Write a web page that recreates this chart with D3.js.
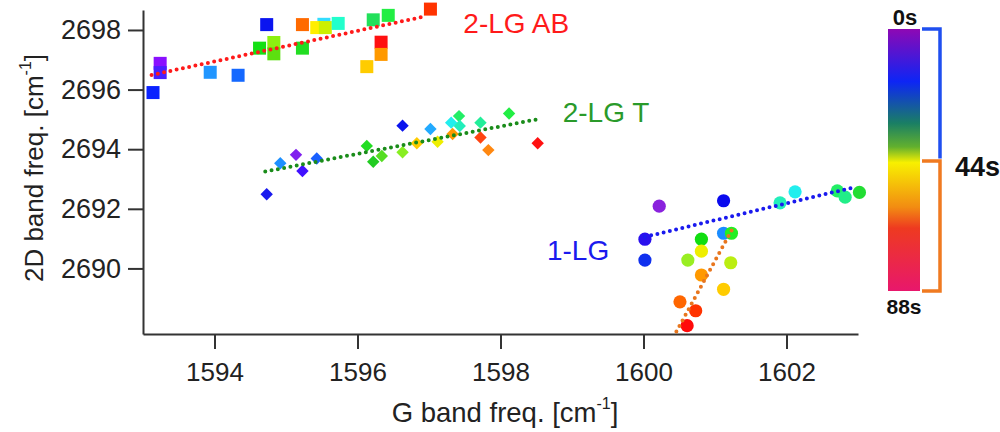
<!DOCTYPE html>
<html>
<head>
<meta charset="utf-8">
<script src="https://cdn.jsdelivr.net/npm/d3@7/dist/d3.min.js"></script>
<style>
  html, body { margin: 0; padding: 0; background: #fff; }
  svg { display: block; font-family: "Liberation Sans", Arial, sans-serif; }
</style>
</head>
<body>
<svg id="chart" width="1000" height="432"></svg>
<script>
// ---- data -----------------------------------------------------------
// Axis ticks
const xTicks = [1594, 1596, 1598, 1600, 1602];
const yTicks = [2690, 2692, 2694, 2696, 2698];

// Bilayer graphene, AB stacking (squares)
const abG   = [1593.14, 1593.24, 1593.24, 1593.94, 1594.33, 1594.73, 1594.63, 1594.83, 1594.83, 1595.23, 1595.23, 1595.53, 1595.43, 1595.55, 1595.73, 1596.22, 1596.43, 1596.33, 1596.33, 1596.13, 1597.02];
const ab2D  = [2695.90, 2696.88, 2696.57, 2696.58, 2696.48, 2698.18, 2697.39, 2697.58, 2697.20, 2697.39, 2698.18, 2698.19, 2698.08, 2698.08, 2698.22, 2698.34, 2698.49, 2697.59, 2697.18, 2696.77, 2698.70];
const abCol = ["#0a22ff", "#8a10ff", "#4a20ff", "#2196ff", "#1468ff", "#0a14f0", "#14e014", "#8cf010", "#5ce010", "#22dd22", "#ff6a00", "#33ddff", "#ffee00", "#ccf000", "#22ffcc", "#22e05a", "#22ee44", "#ff1010", "#ff9900", "#ffcc00", "#ff3300"];

// Bilayer graphene, twisted (diamonds)
const tG   = [1594.73, 1594.92, 1595.14, 1595.23, 1595.43, 1596.13, 1596.22, 1596.34, 1596.63, 1596.63, 1596.83, 1597.02, 1597.12, 1597.31, 1597.42, 1597.43, 1597.33, 1597.72, 1597.72, 1597.83, 1598.12, 1598.52];
const t2D  = [2692.49, 2693.53, 2693.81, 2693.27, 2693.69, 2694.11, 2693.58, 2693.77, 2694.79, 2693.90, 2694.20, 2694.68, 2694.25, 2694.89, 2695.11, 2694.78, 2694.51, 2694.89, 2694.39, 2693.97, 2695.20, 2694.20];
const tCol = ["#1a1aee", "#1e90ff", "#8020ee", "#4010ff", "#1a60ff", "#22dd22", "#22cc22", "#55dd22", "#0a14ee", "#88ee22", "#ffcc00", "#22aaff", "#eeee00", "#22eeee", "#22ee66", "#22eebb", "#ff9900", "#22ee99", "#ff4411", "#ff8811", "#22ee44", "#ff1111"];

// Monolayer graphene (circles)
const mG   = [1600.22, 1600.02, 1600.02, 1601.12, 1601.12, 1601.23, 1600.81, 1600.81, 1600.62, 1601.22, 1600.81, 1601.12, 1600.51, 1600.73, 1600.61, 1602.12, 1601.91, 1602.71, 1602.82, 1603.02];
const m2D  = [2692.09, 2690.98, 2690.28, 2692.27, 2691.18, 2691.18, 2690.98, 2690.58, 2690.28, 2690.19, 2689.78, 2689.30, 2688.88, 2688.58, 2688.08, 2692.57, 2692.20, 2692.60, 2692.39, 2692.55];
const mCol = ["#8a22dd", "#2a10ee", "#1030ee", "#0a0aee", "#1a8cff", "#22ee22", "#11dd11", "#eeee00", "#99ee22", "#bbee11", "#ff9900", "#ffcc00", "#ff6600", "#ff3300", "#ff0a0a", "#22eeee", "#22eebb", "#22ee66", "#22ee88", "#22dd33"];

// Linear trends: [G start, G end], [2D start, 2D end]
const fitAB_G = [1593.12, 1596.97], fitAB_2D = [2696.49, 2698.47];
const fitT_G  = [1594.71, 1598.51], fitT_2D  = [2693.25, 2695.00];
const fitM_G  = [1600.02, 1602.98], fitM_2D  = [2691.06, 2692.74];
const fitM2_G = [1600.46, 1601.26], fitM2_2D = [2687.88, 2691.40];

// Group labels
const groupNames  = ["2-LG AB", "2-LG T", "1-LG"];
const groupLabelG  = [1597.48, 1598.87, 1598.65];
const groupLabel2D = [2697.90, 2694.91, 2690.28];

// Time colour bar
const timeLabels = ["0s", "44s", "88s"];
const barStops = [0, 0.2, 0.36, 0.45, 0.51, 0.68, 0.76, 1];
const barColors = ["#8e08b4", "#0d25f5", "#1a7f64", "#62b02e", "#f8f000", "#f28c12", "#ee3a20", "#e8176c"];

// ---- layout ---------------------------------------------------------
const svg = d3.select("#chart");
const x = d3.scaleLinear().domain([1593, 1603]).range([143, 858]);
const y = d3.scaleLinear().domain([2687.8, 2698.67]).range([334, 10]);

// axes
const axisColor = "#333";
const gx = svg.append("g").attr("transform", "translate(0,334)")
  .call(d3.axisBottom(x).tickValues(xTicks).tickFormat(d3.format("d"))
        .tickSize(15).tickSizeOuter(0).tickPadding(14));
const gy = svg.append("g").attr("transform", "translate(143,0)")
  .call(d3.axisLeft(y).tickValues(yTicks).tickFormat(d3.format("d"))
        .tickSize(15).tickSizeOuter(0).tickPadding(7));
[gx, gy].forEach(g => {
  g.selectAll("path.domain, line").attr("stroke", axisColor).attr("stroke-width", 2);
  g.selectAll("text").attr("fill", "#222").attr("font-family", "Liberation Sans, Arial, sans-serif");
});
gx.selectAll("text").attr("font-size", 26);
gy.selectAll("text").attr("font-size", 27);

// axis titles
const xt = svg.append("text").attr("x", 505).attr("y", 422).attr("text-anchor", "middle")
  .attr("font-size", 27.5).attr("fill", "#222");
xt.append("tspan").text("G band freq. [cm");
xt.append("tspan").text("-1").attr("font-size", 16).attr("dy", -13);
xt.append("tspan").text("]").attr("dy", 13);

const yt = svg.append("text").attr("transform", "translate(43,168) rotate(-90)")
  .attr("text-anchor", "middle").attr("font-size", 26).attr("fill", "#222");
yt.append("tspan").text("2D band freq. [cm");
yt.append("tspan").text("-1").attr("font-size", 16).attr("dy", -12);
yt.append("tspan").text("]").attr("dy", 12);

// markers
const sq = 13;
svg.append("g").selectAll("rect").data(d3.range(abG.length)).join("rect")
  .attr("x", i => x(abG[i]) - sq / 2).attr("y", i => y(ab2D[i]) - sq / 2)
  .attr("width", sq).attr("height", sq).attr("fill", i => abCol[i]);

const dr = 6.2;
svg.append("g").selectAll("path").data(d3.range(tG.length)).join("path")
  .attr("transform", i => `translate(${x(tG[i])},${y(t2D[i])})`)
  .attr("d", `M0,${-dr}L${dr},0L0,${dr}L${-dr},0Z`).attr("fill", i => tCol[i]);

svg.append("g").selectAll("circle").data(d3.range(mG.length)).join("circle")
  .attr("cx", i => x(mG[i])).attr("cy", i => y(m2D[i])).attr("r", 6.6)
  .attr("fill", i => mCol[i]);

// dotted trend lines
const line = d3.line().x(d => x(d[0])).y(d => y(d[1]));
const fits = [
  [fitAB_G, fitAB_2D, "#ff1a1a"],
  [fitT_G, fitT_2D, "#1a8c1a"],
  [fitM_G, fitM_2D, "#1a1aee"],
  [fitM2_G, fitM2_2D, "#e8761e"]
];
fits.forEach(([g, d, c]) => {
  svg.append("path").datum([[g[0], d[0]], [g[1], d[1]]])
    .attr("d", line).attr("fill", "none").attr("stroke", c)
    .attr("stroke-width", 4).attr("stroke-linecap", "round")
    .attr("stroke-dasharray", "0 6.4");
});

// group labels
const labelColors = ["#ff1a1a", "#2a9a2a", "#1a1aee"];
svg.append("g").selectAll("text").data(groupNames).join("text")
  .attr("x", (d, i) => x(groupLabelG[i])).attr("y", (d, i) => y(groupLabel2D[i]))
  .attr("font-size", 28).attr("fill", (d, i) => labelColors[i]).text(d => d);

// colour bar
const grad = svg.append("defs").append("linearGradient").attr("id", "timeGrad")
  .attr("x1", 0).attr("y1", 0).attr("x2", 0).attr("y2", 1);
grad.selectAll("stop").data(barStops).join("stop")
  .attr("offset", d => d).attr("stop-color", (d, i) => barColors[i]);
const tScale = d3.scaleLinear().domain([0, 88]).range([29, 291]);
svg.append("rect").attr("x", 888).attr("y", tScale(0)).attr("width", 32)
  .attr("height", tScale(88) - tScale(0)).attr("fill", "url(#timeGrad)");

// brackets for the two halves of the time range
svg.append("path").attr("fill", "none").attr("stroke", "#1f4ff0").attr("stroke-width", 3.5)
  .attr("d", `M922,${tScale(0)}H940V${tScale(43.5)}`);
svg.append("path").attr("fill", "none").attr("stroke", "#f07a20").attr("stroke-width", 3.5)
  .attr("d", `M922,${tScale(44.3)}H940V${tScale(88)}H922`);

svg.append("text").attr("x", 905).attr("y", 25).attr("text-anchor", "middle")
  .attr("font-size", 22).attr("font-weight", "bold").attr("fill", "#111").text(timeLabels[0]);
svg.append("text").attr("x", 955).attr("y", 176)
  .attr("font-size", 27).attr("font-weight", "bold").attr("fill", "#111").text(timeLabels[1]);
svg.append("text").attr("x", 904).attr("y", 314).attr("text-anchor", "middle")
  .attr("font-size", 21).attr("font-weight", "bold").attr("fill", "#111").text(timeLabels[2]);
</script>
</body>
</html>
